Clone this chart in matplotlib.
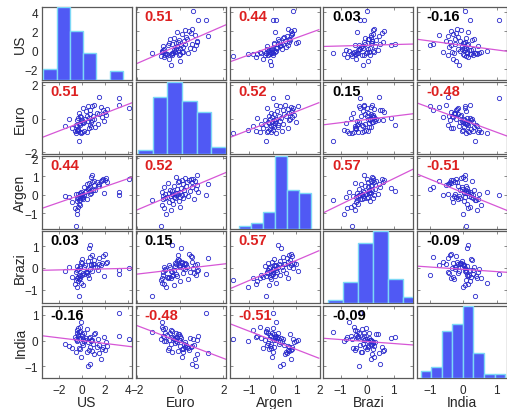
import numpy as np
import matplotlib
matplotlib.use('Agg')
import matplotlib.pyplot as plt

plt.rcParams['font.family'] = ['Liberation Sans', 'DejaVu Sans']

names = ['US', 'Euro', 'Argen', 'Brazi', 'India']

# one value per observation, same row order in every list
us = [-0.28, -0.55, -0.10, -0.20, 0.03, 0.45, 0.15, -0.65, -0.48, -0.32,
      -0.42, -0.38, 0.62, -0.85, 0.80, 1.15, -1.50, -0.40, 0.65, -0.22,
      -0.50, -0.30, 1.35, 0.08, -0.15, -0.05, 0.75, 0.20, 0.50, 1.90,
      0.90, 0.00, -0.45, 1.05, -1.10, 0.25, -0.35, 0.60, 1.70, -0.12,
      0.40, -0.18, 0.95, 2.10, 0.72, 1.45, 1.25, -0.25, 2.00, 0.30,
      1.80, 0.70, 2.20, 4.10, 0.12, 1.60, 0.55, 0.85, 1.00, 3.18,
      3.20, 1.50]
euro = [-1.30, -0.86, -0.84, -0.82, -0.80, -0.78, -0.76, -0.74, -0.71, -0.68,
        -0.65, -0.61, -0.57, -0.53, -0.50, -0.47, -0.43, -0.41, -0.39, -0.37,
        -0.35, -0.33, -0.30, -0.28, -0.25, -0.22, -0.20, -0.18, -0.15, -0.13,
        -0.10, -0.08, -0.06, -0.04, -0.02, 0.00, 0.02, 0.05, 0.08, 0.10,
        0.13, 0.15, 0.18, 0.22, 0.25, 0.28, 0.32, 0.35, 0.39, 0.45,
        0.50, 0.53, 0.56, 0.60, 0.63, 0.68, 0.72, 0.76, 0.80, 0.83,
        1.20, 1.28]
argen = [-0.28, -1.68, 0.13, -0.55, -0.05, -0.24, 0.40, -0.72, -0.18, 0.02,
         -1.05, -0.12, 0.65, -0.40, 0.08, 0.25, -0.06, -0.85, 0.22, -0.26,
         0.03, -0.48, 0.46, -0.14, 0.10, -0.20, 0.98, -0.02, 0.33, 0.11,
         0.72, 0.05, -0.33, 0.75, -0.10, 0.14, -0.65, 0.36, 0.82, -0.03,
         0.57, -0.16, 0.28, 0.92, 0.06, 0.50, 0.70, -0.08, 0.80, 0.19,
         0.85, 0.43, 0.68, 0.88, -0.22, 0.77, 0.30, 1.08, 0.53, 0.15,
         0.00, 0.60]
brazi = [-1.28, -0.57, -0.68, -0.49, -0.35, -0.19, 0.02, -0.74, -0.10, -0.04,
         -0.86, -0.43, -0.47, -0.41, 0.14, 0.06, -0.15, -0.45, 1.05, -0.37,
         -0.21, -0.33, -0.08, -0.80, 0.08, 0.22, 0.17, -0.29, 0.30, -0.39,
         0.60, 0.40, 0.10, 0.35, 0.03, 0.11, -0.62, 0.92, 0.21, 0.25,
         -0.23, -0.02, 0.19, 0.24, -0.06, 0.16, 0.05, -0.52, 0.65, -0.17,
         0.55, 0.50, 0.26, 0.00, -0.25, 0.13, -0.31, -0.13, 0.20, -0.12,
         -0.27, 0.45]
india = [0.34, 0.08, 0.72, 0.52, 0.17, 0.44, -0.03, 0.15, 0.28, 0.48,
         0.00, 0.22, -0.36, -0.30, 0.01, 0.31, -0.13, 0.40, 0.13, 0.37,
         -0.45, 0.12, 0.07, 0.06, 0.10, -0.09, -0.01, 0.29, -0.05, 0.14,
         -0.40, 0.24, 0.02, 0.26, -0.21, 0.03, 0.19, 0.11, -0.32, -0.62,
         -0.42, -0.34, -0.11, -0.07, -0.24, -0.15, -0.26, -0.28, -0.38, 0.09,
         -0.23, -0.90, -0.19, 0.05, -0.17, -0.72, -1.00, 0.04, -0.52, 0.20,
         1.07, -0.47]

# correlation coefficients printed in the panels
corr = [[1.00, 0.51, 0.44, 0.03, -0.16],
        [0.51, 1.00, 0.52, 0.15, -0.48],
        [0.44, 0.52, 1.00, 0.57, -0.51],
        [0.03, 0.15, 0.57, 1.00, -0.09],
        [-0.16, -0.48, -0.51, -0.09, 1.00]]

tick_vals = [[-2, 0, 2, 4], [-2, 0, 2], [-1, 0, 1, 2], [-1, 0, 1], [-1, 0, 1]]
n_bins = [6, 6, 6, 6, 8]

data = [np.array(v) for v in (us, euro, argen, brazi, india)]

# axis ranges per variable (x when in a column, y when in a row)
xlims = [(-3.5, 4.3), (-2.05, 2.1), (-1.83, 1.97), (-1.65, 1.75), (-1.38, 1.32)]
ylims = [(-3.05, 4.56), (-2.1, 2.18), (-1.86, 2.1), (-1.64, 1.7), (-1.45, 1.36)]
# where the histogram bars sit inside the diagonal panels (fraction of width)
hist_span = [(0.018, 0.903), (0.03, 1.0), (0.103, 0.903), (0.05, 1.05), (0.04, 0.975)]

W, H = 507, 410
fig = plt.figure(figsize=(W / 100, H / 100), dpi=100)

x0, y0 = 41.7, 8.0
pw, ph = 90.0, 72.5
dx, dy = 93.9, 74.65

frame_col = '#5a5a5a'
txt_col = '#262626'

for i in range(5):
    for j in range(5):
        left = (x0 + j * dx) / W
        bottom = 1 - (y0 + i * dy + ph) / H
        ax = fig.add_axes([left, bottom, pw / W, ph / H])
        ax.set_xlim(xlims[j])
        ax.set_ylim(ylims[i])
        ax.set_xticks(tick_vals[j])
        ax.set_yticks(tick_vals[i])
        ax.tick_params(direction='in', length=2.5 if i != j else 0, width=0.6,
                       top=True, right=True, color='#777777',
                       labelcolor=txt_col, labelsize=8.5)
        ax.tick_params(axis='x', pad=4)
        ax.tick_params(axis='y', pad=2.5)
        for s in ax.spines.values():
            s.set_color(frame_col)
            s.set_linewidth(0.9)
        if i != 4:
            ax.set_xticklabels([])
        else:
            ax.set_xlabel(names[j], fontsize=10, color=txt_col)
            ax.xaxis.set_label_coords(0.5, -0.235)
        if j != 0:
            ax.set_yticklabels([])
        else:
            ax.set_ylabel(names[i], fontsize=10, color=txt_col)
            ax.yaxis.set_label_coords(-0.16, 0.5)

        if i == j:
            v = data[i]
            counts, edges = np.histogram(v, bins=n_bins[i])
            a, b = hist_span[i]
            span = (v.max() - v.min()) / (b - a)
            lo = v.min() - a * span
            hax = fig.add_axes([left, bottom, pw / W, ph / H])
            hax.patch.set_alpha(0)
            hax.axis('off')
            hax.bar(edges[:-1], counts, width=np.diff(edges), align='edge',
                    color='#5059f4', edgecolor='#7cd8f6', linewidth=1.0)
            hax.set_xlim(lo, lo + span)
            hax.set_ylim(0, counts.max())
            continue

        xv, yv = data[j], data[i]
        ax.plot(xv, yv, 'o', ms=3.1, mfc='none', mec='#2a2acc', mew=0.6)

        # least-squares line through the means, slope from r
        r = corr[i][j]
        slope = r * yv.std() / xv.std()
        xs = np.array(xlims[j])
        ax.plot(xs, yv.mean() + slope * (xs - xv.mean()),
                color='#d656d6', lw=0.9)

        col = '#dd2020' if abs(r) > 0.25 else 'black'
        ax.text(0.1, 0.97, f'{r:.2f}', transform=ax.transAxes,
                ha='left', va='top', fontsize=10.5, fontweight='bold',
                color=col)

fig.savefig('out.png', dpi=100)
